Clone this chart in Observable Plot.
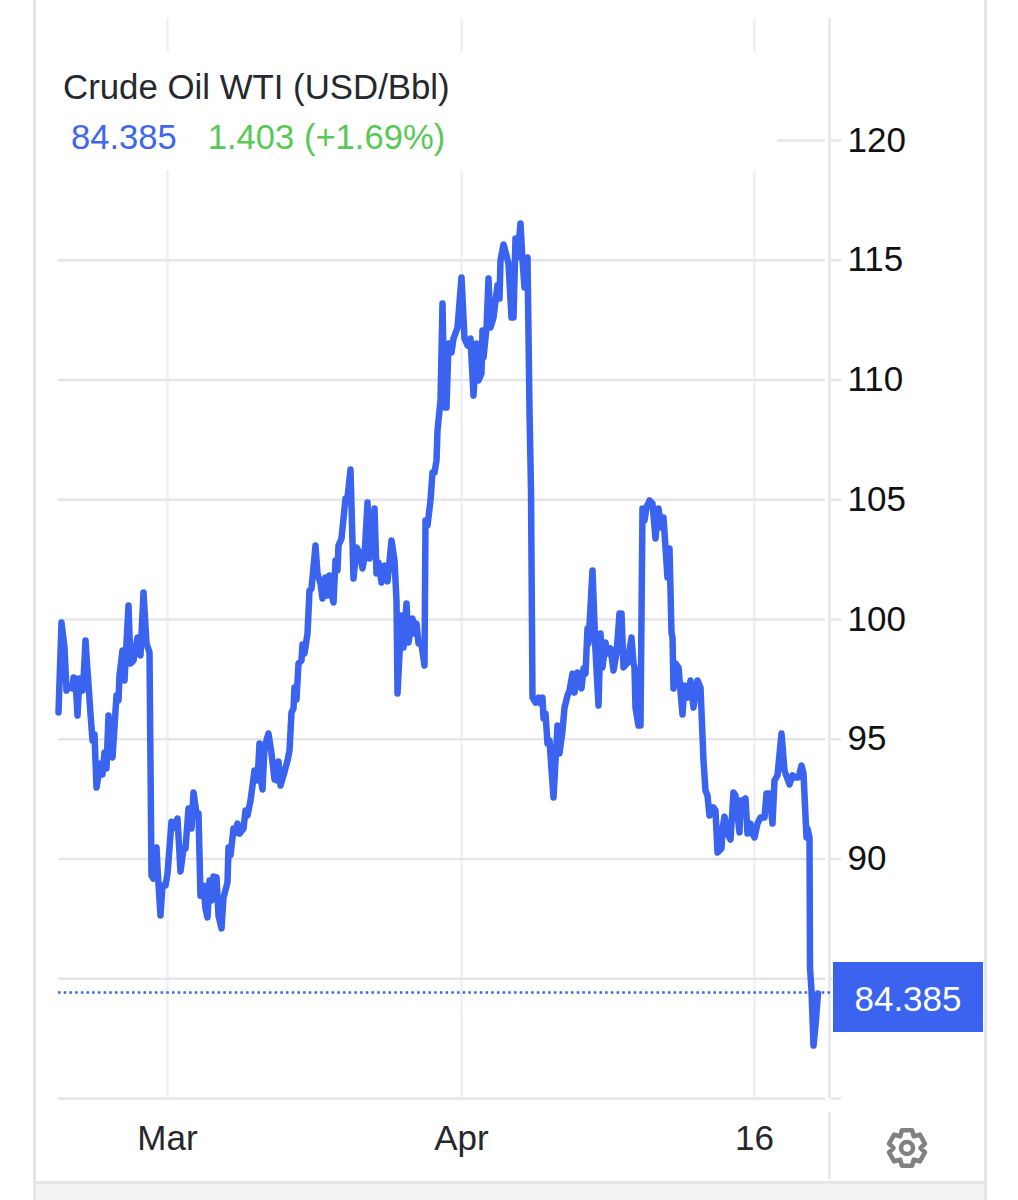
<!DOCTYPE html>
<html>
<head>
<meta charset="utf-8">
<script src="https://cdn.jsdelivr.net/npm/d3@7"></script>
<script src="https://cdn.jsdelivr.net/npm/@observablehq/plot@0.6"></script>
<style>
html,body{margin:0;padding:0;background:#fff;}
#wrap{position:relative;width:1018px;height:1200px;overflow:hidden;font-family:"Liberation Sans",Arial,sans-serif;}
#wrap svg.chart{position:absolute;left:0;top:0;overflow:visible;background:transparent;}
#card{position:absolute;left:33px;top:-5px;width:948px;height:1215px;border-left:3px solid #e6e6e9;border-right:3px solid #e6e6e9;}
#foot{position:absolute;left:36px;top:1181px;width:948px;height:19px;background:#f2f3f5;border-top:3px solid #e6e6e9;box-sizing:border-box;}
#head{position:absolute;left:58px;top:52px;width:719px;height:118px;background:#fff;}
#title{position:absolute;left:5px;top:15px;font-size:34.8px;color:#26282c;white-space:nowrap;}
#quote{position:absolute;left:13px;top:66px;font-size:34.6px;white-space:nowrap;}
#quote .p{color:#3f66ee;margin-right:31px;}
#quote .c{color:#59c955;}
#last{position:absolute;left:833px;width:150px;height:70px;line-height:73px;background:#3a63f0;color:#fff;font-size:35px;text-align:center;}
#gear{position:absolute;left:884px;top:1125px;}
</style>
</head>
<body>
<div id="wrap"></div>
<script>
const titleText = "Crude Oil WTI (USD/Bbl)";
const lastPrice = 84.385;
const changeText = "1.403 (+1.69%)";
const priceTicks = [85, 90, 95, 100, 105, 110, 115, 120];
const timeTicks = [109, 403, 696];
const timeLabels = ["Mar", "Apr", "16"];

const bars = [
0,3,6,8,11,14,15,17,19,21,24,25,27,29,32,34,36,38,42,44,46,48,50,52,54,58,60,61,64,66,70,72,75,79,82,85,88,91,93,95,98,99,102,104,107,109,113,114,119,122,125,127,130,133,135,138,140,142,145,147,149,151,153,155,158,160,163,165,169,170,172,175,176,179,181,185,187,189,192,
196,199,201,202,204,206,210,213,216,218,220,222,225,229,231,233,235,236,238,240,243,244,246,249,251,253,257,259,262,264,267,269,271,273,275,277,279,280,283,287,289,292,295,298,301,304,306,309,311,316,318,320,323,326,329,333,336,338,339,343,345,348,350,354,356,358,360,363,366,367,369,372,374,376,378,379,
382,384,386,388,390,393,395,399,403,406,409,412,415,418,420,423,424,425,428,430,432,435,439,441,442,445,448,450,453,455,457,459,462,464,466,469,471,472.5,
474,477,480,482,484,485,487,489,491,494,495,499,501,504,506,509,511,514,516,519,523,525,527,529,530,534,537,540,542,544,547,549,552,555,558,561,563,565,569,573,575,576,577,580,582,
584,586,588,591,594,597,600,603,605,607,609,611,613,614,615,617,620,624,626,629,632,635,639,642,645,647,649,651,655,657,659,663,664,666,669,672,675,677,681,682,684,687,689,692,694,696,699,702,706,708,711,714,716,719,723,726,731,734,737,740,743,745,748,749,751,751.5,753,755,757,759.5
];
const prices = [
96.12,99.87,98.83,97.03,97.24,97.12,97.58,97.54,95.99,97.54,97.03,97.45,99.12,97.87,96.07,94.95,95.20,92.98,93.99,93.53,94.45,93.78,95.99,94.40,94.24,96.83,96.62,97.66,98.70,97.45,100.58,98.16,98.29,99.25,98.50,101.13,99.00,98.62,89.31,89.18,90.48,89.64,87.64,88.89,88.89,89.39,91.56,91.27,91.69,89.48,90.44,90.44,92.11,91.27,92.78,91.90,91.90,88.47,88.89,87.93,87.56,89.10,88.27,89.27,89.23,87.64,87.10,88.39,89.02,90.48,90.15,91.27,91.06,91.48,91.06,91.27,92.02,91.82,92.44,
93.69,93.28,94.82,93.40,92.90,94.65,95.24,94.40,93.32,93.28,94.07,93.07,93.49,94.11,94.53,96.12,96.28,97.16,96.66,98.16,98.29,98.96,98.58,99.42,101.21,101.29,103.09,101.92,101.50,100.88,101.75,101.00,101.84,101.09,100.71,102.46,102.05,103.09,103.38,105.05,105.09,106.26,101.71,103.01,102.80,102.13,102.59,104.88,102.55,104.63,101.92,102.38,101.54,102.25,101.59,103.30,102.46,100.79,96.91,100.17,98.83,100.67,99.04,100.04,99.42,99.83,99.00,98.96,98.08,104.13,103.92,104.97,106.14,106.14,106.64,107.89,
109.14,113.19,108.85,108.85,111.52,111.15,111.73,112.19,114.28,111.73,111.44,111.73,109.35,111.52,109.98,110.27,112.07,110.94,112.15,114.24,112.19,112.61,113.95,113.40,114.99,115.66,115.20,114.86,112.61,112.61,115.91,115.11,116.53,114.99,113.86,115.11,108.73,105.39,
96.74,96.53,96.74,96.49,96.74,95.87,96.07,94.82,94.95,93.15,92.57,95.57,94.40,95.36,96.32,96.83,97.03,97.74,96.95,97.79,97.12,97.95,97.74,99.62,99.00,102.05,98.70,96.41,99.42,98.00,99.04,98.58,98.79,97.87,98.58,100.25,100.25,98.00,98.20,99.25,98.16,98.00,96.32,95.57,95.57,
104.63,104.13,104.68,104.97,104.84,103.38,104.63,103.84,104.26,103.01,101.75,102.96,99.46,99.25,97.12,98.16,98.00,96.03,97.24,96.74,97.45,96.32,97.45,97.16,94.11,92.86,92.65,91.82,92.15,92.02,90.27,90.44,91.27,91.77,91.06,90.81,92.78,92.65,91.11,92.44,92.44,92.53,91.06,91.48,91.06,90.90,91.48,91.73,91.73,92.73,92.73,91.48,93.28,93.49,95.24,93.69,93.11,93.49,93.40,93.40,93.90,93.57,90.90,91.27,90.90,85.47,84.51,82.21,83.05,84.385
];

const lineBlue = "#3a63f0";
const chart = Plot.plot({
  width: 1018, height: 1200,
  marginLeft: 58, marginRight: 177, marginTop: 0, marginBottom: 102,
  style: {background: "transparent", fontFamily: '"Liberation Sans",Arial,sans-serif', overflow: "visible"},
  x: {domain: [0, 783], axis: null},
  y: {domain: [80, 125.845], axis: null},
  marks: [
    Plot.ruleX(timeTicks, {y1: 125.1, y2: 80, stroke: "#eef0f5", strokeWidth: 2.5}),
    Plot.ruleY([80, ...priceTicks], {x1: 0, x2: 767, stroke: "#e6e6e9", strokeWidth: 2.5}),
    Plot.ruleY([80, ...priceTicks], {x1: 773, x2: 783, stroke: "#e6e6e9", strokeWidth: 2.5}),
    Plot.ruleX([771], {y1: 125.1, y2: 80, stroke: "#e6e6e9", strokeWidth: 2.5}),
    Plot.ruleX([771], {y1: 79.42, y2: 76.6, stroke: "#e6e6e9", strokeWidth: 2.5}),
    Plot.ruleY([lastPrice], {x1: 0, x2: 776, dy: -1, stroke: lineBlue, strokeWidth: 2.5, strokeDasharray: "2.5 3.2"}),
    Plot.line(bars, {x: d => d, y: (d, i) => prices[i], stroke: lineBlue, strokeWidth: 6.5, strokeLinejoin: "round", strokeLinecap: "round"}),
    Plot.axisY(priceTicks.filter(d => d > 85), {anchor: "right", tickSize: 0, tickPadding: 6, fontSize: 35, fill: "#111", textAnchor: "start", tickFormat: d => String(d)}),
    Plot.axisX(timeTicks, {anchor: "bottom", tickSize: 0, tickPadding: 27, fontSize: 35, fill: "#26282c", tickFormat: d => timeLabels[timeTicks.indexOf(d)]})
  ]
});
chart.classList.add("chart");

const wrap = document.getElementById("wrap");
const card = document.createElement("div"); card.id = "card";
const foot = document.createElement("div"); foot.id = "foot";
wrap.append(card, foot, chart);

const head = document.createElement("div"); head.id = "head";
const t = document.createElement("div"); t.id = "title"; t.textContent = titleText;
const q = document.createElement("div"); q.id = "quote";
const qp = document.createElement("span"); qp.className = "p"; qp.textContent = lastPrice.toFixed(3);
const qc = document.createElement("span"); qc.className = "c"; qc.textContent = changeText;
q.append(qp, qc); head.append(t, q); wrap.append(head);

const last = document.createElement("div"); last.id = "last";
last.textContent = lastPrice.toFixed(3);
last.style.top = (chart.scale("y").apply(lastPrice) - 31) + "px";
wrap.append(last);

// settings gear icon
const teeth = 6, cx = 23, cy = 23, ro = 18.5, ri = 13.5;
const pts = [];
for (let k = 0; k < teeth; k++) {
  const a = -Math.PI / 2 + k * 2 * Math.PI / teeth, w = 0.28, g = 0.52;
  pts.push([a - g, ri], [a - w, ro], [a + w, ro], [a + g, ri]);
}
const gearPath = "M" + pts.map(([a, r]) => `${(cx + r * Math.cos(a)).toFixed(2)},${(cy + r * Math.sin(a)).toFixed(2)}`).join("L") + "Z";
const gear = document.createElement("div"); gear.id = "gear";
gear.innerHTML = `<svg width="46" height="46" viewBox="0 0 46 46"><path d="${gearPath}" fill="none" stroke="#808183" stroke-width="4.6" stroke-linejoin="round"/><circle cx="23" cy="23" r="6" fill="none" stroke="#808183" stroke-width="4.6"/></svg>`;
wrap.append(gear);
</script>
</body>
</html>
